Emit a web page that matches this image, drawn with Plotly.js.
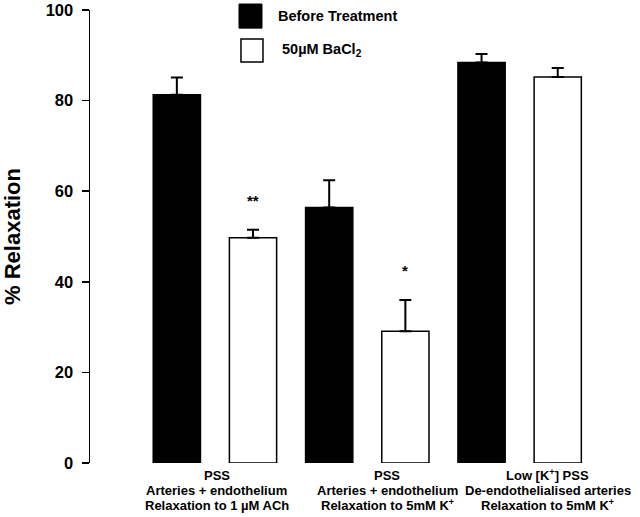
<!DOCTYPE html>
<html>
<head>
<meta charset="utf-8">
<script src="https://cdn.plot.ly/plotly-3.0.1.min.js"></script>
<style>html,body{margin:0;padding:0;background:#fff}#chart{width:640px;height:517px}</style>
</head>
<body>
<div id="chart"></div>
<script>
// ---- data ----
var categories = ["g1", "g2", "g3"];
var categoryLabels = [
  "PSS<br>Arteries + endothelium<br>Relaxation to 1 µM ACh",
  "PSS<br>Arteries + endothelium<br>Relaxation to 5mM K<sup>+</sup>",
  "Low [K<sup>+</sup>] PSS<br>De-endothelialised arteries<br>Relaxation to 5mM K<sup>+</sup>"
];
var seriesNames = ["Before Treatment", "50µM BaCl<sub>2</sub>"];
var beforeValues = [81.3, 56.4, 88.4];
var beforeErrors = [3.8, 6.0, 1.9];
var bacl2Values = [49.7, 29.1, 85.2];
var bacl2Errors = [1.8, 6.9, 2.0];
var significance = ["**", "*", ""];
var sigY = [58, 42.6, null];
var yTicks = [0, 20, 40, 60, 80, 100];

var FONT = "Liberation Sans, Arial, Helvetica, sans-serif";

var traces = [
  {
    type: "bar", name: seriesNames[0], x: categories, y: beforeValues,
    marker: {color: "#000", line: {color: "#000", width: 1.5}},
    error_y: {type: "data", symmetric: false, array: beforeErrors,
      arrayminus: beforeErrors.map(function(){return 0;}),
      color: "#000", thickness: 2, width: 6},
    showlegend: false, hoverinfo: "skip"
  },
  {
    type: "bar", name: seriesNames[1], x: categories, y: bacl2Values,
    marker: {color: "#fff", line: {color: "#000", width: 1.5}},
    error_y: {type: "data", symmetric: false, array: bacl2Errors,
      arrayminus: bacl2Errors.map(function(){return 0;}),
      color: "#000", thickness: 2, width: 6},
    showlegend: false, hoverinfo: "skip"
  }
];

var annotations = [];
var labelShift = [2, 20, 28];
categoryLabels.forEach(function(lbl, i){
  lbl.split("<br>").forEach(function(line, j){
    annotations.push({
      xref: "x", yref: "paper", x: i, y: 0, yshift: -12 - 15 * j,
      xshift: labelShift[i],
      xanchor: "center", yanchor: "middle", showarrow: false, text: line,
      font: {family: FONT, size: 13, weight: "bold", color: "#000"}
    });
  });
});
significance.forEach(function(s, i){
  if (!s) return;
  annotations.push({
    xref: "x", yref: "y", x: i, y: sigY[i], xshift: 38,
    xanchor: "center", yanchor: "middle", showarrow: false, text: s,
    font: {family: FONT, size: 15, weight: "bold", color: "#000"}
  });
});
// legend texts
annotations.push({xref: "paper", yref: "paper", x: 0.338, y: 0.987, xanchor: "left", yanchor: "middle",
  showarrow: false, text: seriesNames[0], font: {family: FONT, size: 14.5, weight: "bold", color: "#000"}});
annotations.push({xref: "paper", yref: "paper", x: 0.345, y: 0.912, xanchor: "left", yanchor: "middle",
  showarrow: false, text: seriesNames[1], font: {family: FONT, size: 14.5, weight: "bold", color: "#000"}});

var shapes = [
  {type: "rect", xref: "paper", yref: "paper", x0: 0.2709, x1: 0.3127, y0: 0.960, y1: 1.0132,
   fillcolor: "#000", line: {color: "#000", width: 1}},
  {type: "rect", xref: "paper", yref: "paper", x0: 0.2745, x1: 0.3145, y0: 0.885, y1: 0.936,
   fillcolor: "#fff", line: {color: "#000", width: 1.5}}
];

var layout = {
  width: 640, height: 517,
  margin: {l: 90, r: 0, t: 10, b: 54},
  paper_bgcolor: "#fff", plot_bgcolor: "#fff",
  barmode: "group", bargap: 0, bargroupgap: 0.38,
  showlegend: false,
  xaxis: {type: "category", range: [-0.82, 2.79], showline: false, showticklabels: false,
    ticks: "", showgrid: false, zeroline: false, fixedrange: true},
  yaxis: {range: [0, 100], tickvals: yTicks, ticktext: yTicks.map(String),
    showline: true, linecolor: "#000", linewidth: 1.5, ticks: "outside", ticklen: 7,
    tickwidth: 1.5, tickcolor: "#000", showgrid: false, zeroline: false,
    ticklabelstandoff: 5,
    tickfont: {family: FONT, size: 16.5, weight: "bold", color: "#000"},
    title: {text: "% Relaxation", standoff: 24,
      font: {family: FONT, size: 22, weight: "bold", color: "#000"}},
    automargin: false, fixedrange: true},
  annotations: annotations,
  shapes: shapes
};

Plotly.newPlot("chart", traces, layout, {displayModeBar: false, staticPlot: true});
</script>
</body>
</html>
